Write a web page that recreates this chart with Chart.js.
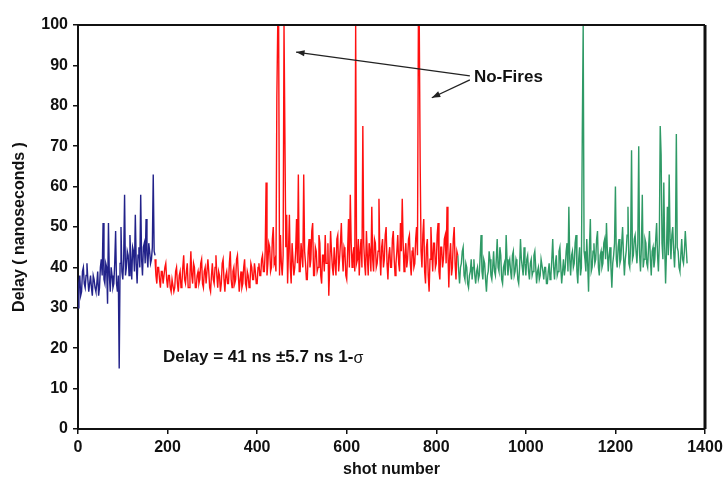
<!DOCTYPE html>
<html>
<head>
<meta charset="utf-8">
<title>Delay vs shot number</title>
<script src="https://cdn.jsdelivr.net/npm/chart.js@4.4.1/dist/chart.umd.min.js"></script>
<style>
  html, body { margin: 0; padding: 0; background: #fff; }
  #wrap { width: 727px; height: 479px; }
</style>
</head>
<body>
<div id="wrap"><canvas id="myChart" width="727" height="479"></canvas></div>
<script>
// shots are sampled every 2, starting at the given shot (10 values = 20 shots per row)
const shotStep = 2;

const blueStart = 0;
const blueDelay = [
  30, 36, 38, 33, 34, 39, 40, 36, 35, 38,   // 0
  41, 37, 34, 36, 38, 35, 33, 38, 37, 35,   // 20
  34, 36, 39, 33, 35, 40, 42, 38, 51, 37,   // 40
  36, 41, 40, 31, 51, 38, 34, 40, 38, 35,   // 60
  36, 41, 49, 36, 34, 38, 15, 41, 50, 39,   // 80
  37, 42, 58, 38, 40, 44, 43, 38, 48, 42,   // 100
  37, 45, 44, 39, 53, 41, 36, 43, 45, 40,   // 120
  58, 42, 38, 45, 46, 41, 52, 43, 40, 46,   // 140
  44, 41, 42, 45, 63, 44, 43                // 160
];

const redStart = 172;
const redDelay = [
  42, 38, 36, 40, 40, 37, 35, 39, 39, 36,   // 172
  36, 40, 41, 37, 35, 38, 38, 35, 34, 37,   // 192
  37, 34, 35, 39, 40, 36, 34, 38, 39, 35,   // 212
  36, 40, 43, 37, 36, 39, 41, 35, 35, 38,   // 232
  44, 38, 36, 41, 40, 35, 35, 38, 39, 36,   // 252
  37, 41, 42, 36, 35, 39, 40, 36, 36, 42,   // 272
  39, 35, 34, 38, 41, 37, 36, 40, 43, 38,   // 292
  35, 39, 38, 34, 36, 41, 42, 37, 34, 38,   // 312
  39, 36, 36, 41, 44, 37, 35, 39, 40, 36,   // 332
  37, 42, 43, 38, 34, 37, 39, 35, 36, 40,   // 352
  42, 36, 35, 39, 38, 35, 36, 41, 40, 37,   // 372
  37, 41, 39, 36, 36, 40, 41, 38, 38, 42,   // 392
  43, 39, 39, 44, 61, 38, 41, 46, 45, 39,   // 412
  40, 47, 50, 41, 42, 39, 82, 100, 100, 38, // 432
  48, 41, 38, 43, 100, 100, 45, 53, 36, 44, // 452
  53, 40, 36, 46, 46, 38, 40, 44, 52, 41,   // 472
  63, 39, 39, 46, 46, 40, 63, 44, 41, 37,   // 492
  37, 44, 47, 40, 42, 49, 51, 38, 38, 45,   // 512
  44, 39, 40, 48, 46, 38, 36, 43, 43, 39,   // 532
  48, 41, 41, 46, 33, 40, 49, 44, 40, 38,   // 552
  45, 41, 38, 47, 48, 39, 42, 46, 51, 43,   // 572
  39, 45, 44, 38, 37, 44, 52, 40, 58, 46,   // 592
  40, 43, 45, 39, 100, 41, 42, 47, 38, 44,  // 612
  47, 40, 75, 46, 41, 38, 49, 43, 38, 46,   // 632
  44, 39, 55, 42, 39, 47, 46, 40, 41, 44,   // 652
  57, 43, 38, 45, 47, 40, 42, 48, 50, 41,   // 672
  37, 43, 45, 40, 40, 47, 49, 42, 38, 41,   // 692
  44, 48, 41, 39, 51, 44, 57, 46, 39, 43,   // 712
  46, 40, 42, 47, 48, 41, 38, 44, 45, 40,   // 732
  41, 47, 50, 43, 100, 100, 66, 44, 40, 48, // 752
  52, 39, 36, 45, 47, 38, 34, 42, 50, 44,   // 772
  39, 46, 46, 40, 41, 48, 51, 39, 37, 45,   // 792
  45, 40, 42, 47, 48, 41, 55, 44, 35, 43,   // 812
  46, 38, 40, 47, 50, 41, 37, 44, 43        // 832
];

const greenStart = 848;
const greenDelay = [
  43, 39, 36, 40, 41, 44, 45, 38, 37, 41,   // 848
  40, 36, 35, 38, 39, 42, 37, 40, 42, 38,   // 868
  36, 39, 40, 37, 38, 43, 48, 39, 37, 42,   // 888
  41, 37, 34, 38, 39, 44, 42, 38, 37, 40,   // 908
  44, 39, 38, 42, 47, 40, 39, 45, 43, 37,   // 928
  36, 40, 41, 38, 48, 42, 38, 41, 42, 39,   // 948
  37, 43, 44, 38, 39, 42, 41, 37, 36, 40,   // 968
  47, 42, 40, 38, 45, 41, 38, 42, 43, 39,   // 988
  37, 41, 42, 38, 39, 43, 44, 40, 36, 39,   // 1008
  40, 37, 38, 42, 42, 39, 37, 40, 40, 36,   // 1028
  36, 39, 41, 37, 38, 42, 47, 40, 37, 41,   // 1048
  43, 38, 39, 44, 45, 40, 36, 39, 42, 38,   // 1068
  40, 44, 46, 39, 55, 42, 38, 43, 44, 40,   // 1088
  41, 46, 48, 39, 36, 42, 45, 38, 40, 73,   // 1108
  100, 44, 42, 39, 47, 41, 34, 45, 52, 39,  // 1128
  40, 44, 46, 41, 42, 47, 49, 40, 38, 43,   // 1148
  44, 40, 41, 46, 47, 42, 51, 44, 39, 43,   // 1168
  45, 40, 35, 41, 43, 46, 60, 42, 40, 45,   // 1188
  47, 41, 42, 46, 50, 43, 38, 42, 44, 48,   // 1208
  55, 41, 40, 46, 69, 42, 43, 47, 48, 44,   // 1228
  41, 46, 70, 43, 39, 45, 58, 40, 42, 47,   // 1248
  46, 41, 40, 45, 49, 42, 38, 44, 45, 40,   // 1268
  42, 47, 51, 43, 39, 46, 75, 68, 46, 42,   // 1288
  61, 45, 36, 44, 55, 43, 63, 47, 42, 48,   // 1308
  50, 44, 40, 46, 73, 45, 44, 40, 39, 43,   // 1328
  47, 42, 41, 44, 49, 45, 41                // 1348
];

const xTicks = [0, 200, 400, 600, 800, 1000, 1200, 1400];
const yTicks = [0, 10, 20, 30, 40, 50, 60, 70, 80, 90, 100];

function toPoints(start, values) {
  return values.map((v, i) => ({ x: start + i * shotStep, y: v }));
}

const fontFamily = "'Liberation Sans', Arial, sans-serif";
const ink = '#111';

const notesPlugin = {
  id: 'notes',
  afterDatasetsDraw(chart) {
    const { ctx, chartArea: a, scales: { x, y } } = chart;
    ctx.save();

    // top and right frame of the plot box
    ctx.strokeStyle = ink;
    ctx.lineWidth = 2;
    ctx.beginPath();
    ctx.moveTo(a.left, a.top);
    ctx.lineTo(a.right, a.top);
    ctx.stroke();
    ctx.lineWidth = 3;
    ctx.beginPath();
    ctx.moveTo(a.right, a.top);
    ctx.lineTo(a.right, a.bottom);
    ctx.stroke();

    // arrows pointing at the no-fire spikes
    function arrow(x0, y0, x1, y1) {
      const px0 = x.getPixelForValue(x0), py0 = y.getPixelForValue(y0);
      const px1 = x.getPixelForValue(x1), py1 = y.getPixelForValue(y1);
      const ang = Math.atan2(py1 - py0, px1 - px0);
      ctx.strokeStyle = '#222';
      ctx.fillStyle = '#222';
      ctx.lineWidth = 1.3;
      ctx.beginPath();
      ctx.moveTo(px0, py0);
      ctx.lineTo(px1, py1);
      ctx.stroke();
      ctx.beginPath();
      ctx.moveTo(px1, py1);
      ctx.lineTo(px1 - 9 * Math.cos(ang - 0.35), py1 - 9 * Math.sin(ang - 0.35));
      ctx.lineTo(px1 - 9 * Math.cos(ang + 0.35), py1 - 9 * Math.sin(ang + 0.35));
      ctx.closePath();
      ctx.fill();
    }
    arrow(875, 87.4, 487, 93.3);
    arrow(875, 86.4, 790, 82);

    ctx.fillStyle = ink;
    ctx.textBaseline = 'middle';
    ctx.textAlign = 'left';
    ctx.font = 'bold 17px ' + fontFamily;
    ctx.fillText('No-Fires', x.getPixelForValue(884), y.getPixelForValue(87));

    const tx = x.getPixelForValue(190);
    const ty = y.getPixelForValue(17.7);
    const main = 'Delay = 41 ns \u00b15.7 ns 1-';
    ctx.fillText(main, tx, ty);
    const w = ctx.measureText(main).width;
    ctx.font = '16px ' + fontFamily;
    ctx.fillText('\u03c3', tx + w, ty + 1);

    ctx.restore();
  }
};

const tickFont = { family: fontFamily, size: 16, weight: 'bold' };

new Chart(document.getElementById('myChart').getContext('2d'), {
  type: 'line',
  data: {
    datasets: [
      { data: toPoints(blueStart, blueDelay), borderColor: '#22228a', borderWidth: 1.4 },
      { data: toPoints(redStart, redDelay), borderColor: '#ff1010', borderWidth: 1.4 },
      { data: toPoints(greenStart, greenDelay), borderColor: '#2f9a66', borderWidth: 1.4 }
    ]
  },
  options: {
    responsive: false,
    animation: false,
    parsing: false,
    elements: { point: { radius: 0 }, line: { tension: 0 } },
    layout: { padding: { top: 25, right: 22, left: 0, bottom: 0 } },
    plugins: { legend: { display: false }, tooltip: { enabled: false } },
    scales: {
      x: {
        type: 'linear',
        min: 0,
        max: 1400,
        afterBuildTicks(s) { s.ticks = xTicks.map(v => ({ value: v })); },
        afterFit(s) { s.height = 50; },
        ticks: { color: ink, font: tickFont, padding: 4, maxRotation: 0, callback: v => String(v) },
        grid: { drawOnChartArea: false, drawTicks: true, tickLength: 5, color: ink, lineWidth: 1.5 },
        border: { color: ink, width: 2 },
        title: { display: true, text: 'shot number', color: ink, font: tickFont, padding: { top: 3, bottom: 0 } }
      },
      y: {
        type: 'linear',
        min: 0,
        max: 100,
        afterBuildTicks(s) { s.ticks = yTicks.map(v => ({ value: v })); },
        afterFit(s) { s.width = 78; },
        ticks: { color: ink, font: tickFont, padding: 5, callback: v => String(v) },
        grid: { drawOnChartArea: false, drawTicks: true, tickLength: 5, color: ink, lineWidth: 1.5 },
        border: { color: ink, width: 2 },
        title: { display: true, text: 'Delay ( nanoseconds )', color: ink, font: tickFont, padding: { top: 10, bottom: 0 } }
      }
    }
  },
  plugins: [notesPlugin]
});
</script>
</body>
</html>
